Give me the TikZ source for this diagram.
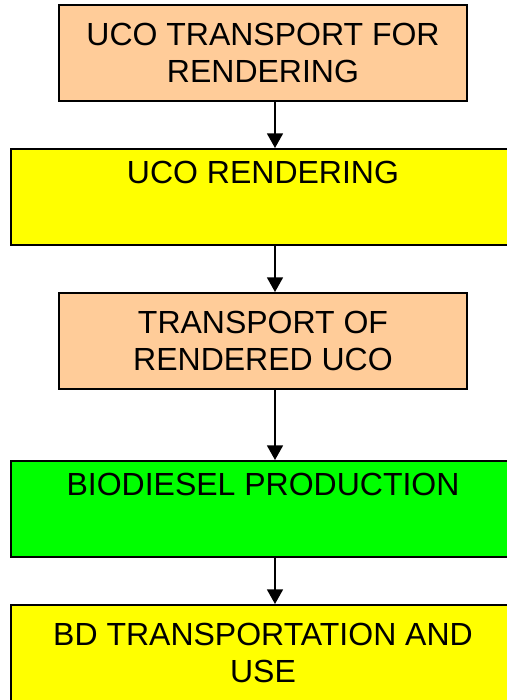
\documentclass[tikz,border=0pt]{standalone}
\usepackage{fontspec}
\setmainfont{Liberation Sans}
\usetikzlibrary{arrows.meta}
\definecolor{peach}{HTML}{FFCC99}
\definecolor{brightyellow}{HTML}{FFFF00}
\definecolor{brightgreen}{HTML}{00FF00}
\tikzset{
  stagebox/.style={draw=black, line width=1.5pt, align=center, minimum height=72pt,
    inner sep=0pt, font=\fontsize{24}{28}\selectfont},
  narrowbox/.style={stagebox, minimum width=306pt, fill=peach},
  widebox/.style={stagebox, minimum width=378pt},
  flow/.style={line width=1.3pt, -{Triangle[length=11pt,width=12pt]}}
}
\begin{document}
\begin{tikzpicture}[x=0.75pt, y=-0.75pt]
    % Frame of the picture
    \useasboundingbox (0,0) rectangle (507,700);

    % Stages of the chain
    \node[narrowbox] (transport) at (263,53) {UCO TRANSPORT FOR\\RENDERING};
    \node[widebox, fill=brightyellow] (rendering) at (263,197) {UCO RENDERING\\ \strut};
    \node[narrowbox] (rendered) at (263,341) {TRANSPORT OF\\RENDERED UCO};
    \node[widebox, fill=brightgreen] (production) at (263,509) {BIODIESEL PRODUCTION\\ \strut};
    \node[widebox, fill=brightyellow] (use) at (263,653) {BD TRANSPORTATION AND\\USE};

    % Arrows down the chain
    \coordinate (axis) at (275,0);
    \draw[flow] (transport.south -| axis) -- (rendering.north -| axis);
    \draw[flow] (rendering.south -| axis) -- (rendered.north -| axis);
    \draw[flow] (rendered.south -| axis) -- (production.north -| axis);
    \draw[flow] (production.south -| axis) -- (use.north -| axis);
\end{tikzpicture}
\end{document}
